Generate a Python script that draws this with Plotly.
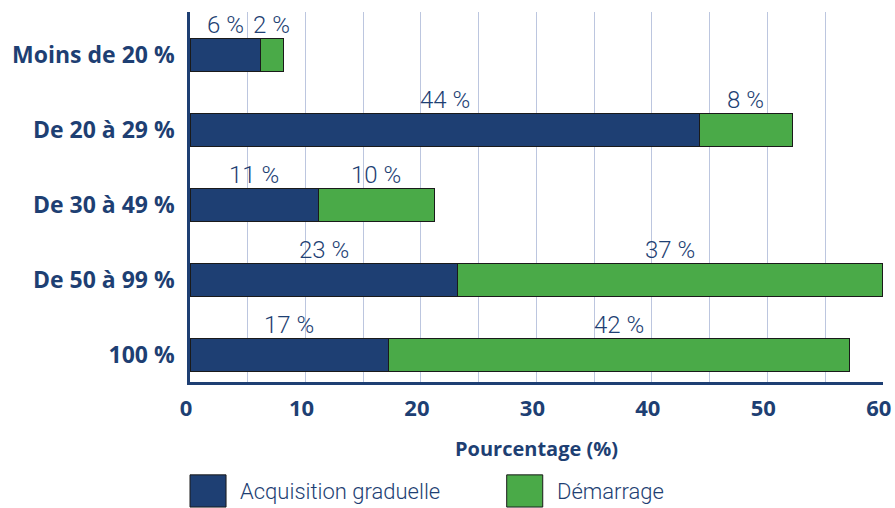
import plotly.graph_objects as go

categories = ["Moins de 20 %", "De 20 à 29 %", "De 30 à 49 %", "De 50 à 99 %", "100 %"]
acquisition = [6.1, 44.1, 11.1, 23.2, 17.2]
demarrage = [2.0, 8.1, 10.1, 36.8, 39.9]
acq_labels = ["6 %", "44 %", "11 %", "23 %", "17 %"]
dem_labels = ["2 %", "8 %", "10 %", "37 %", "42 %"]
series_names = ["Acquisition graduelle", "Démarrage"]
x_ticks = [0, 10, 20, 30, 40, 50, 60]

BLUE = "#1e3f73"
GREEN = "#4aaa48"
GRID = "#bcc6df"
BOLD_FONT = "Open Sans"
LIGHT_FONT = "Roboto, sans-serif"

fig = go.Figure()
fig.add_trace(go.Bar(y=categories, x=acquisition, orientation="h", name=series_names[0],
                     marker=dict(color=BLUE, line=dict(color="#1a1a1a", width=1))))
fig.add_trace(go.Bar(y=categories, x=demarrage, orientation="h", name=series_names[1],
                     marker=dict(color=GREEN, line=dict(color="#1a1a1a", width=1))))

for c, a, d, la, ld in zip(categories, acquisition, demarrage, acq_labels, dem_labels):
    for xc, txt in ((a / 2, la), (a + d / 2, ld)):
        fig.add_annotation(x=xc, y=c, text=txt, showarrow=False, yanchor="bottom",
                           yshift=14, font=dict(family=LIGHT_FONT, size=24, color=BLUE,
                                                weight=300))

# manual legend
leg_x = [0.0, 0.457]
for i, (nm, col) in enumerate(zip(series_names, [BLUE, GREEN])):
    fig.add_shape(type="rect", xref="paper", yref="paper",
                  x0=leg_x[i], x1=leg_x[i] + 0.052, y0=-0.338, y1=-0.251,
                  fillcolor=col, line=dict(color="#1a1a1a", width=1))
    fig.add_annotation(xref="paper", yref="paper", x=leg_x[i] + 0.069, y=-0.297,
                       text=nm, showarrow=False, xanchor="left", yanchor="middle",
                       font=dict(family=LIGHT_FONT, size=22, color=BLUE, weight=300))

fig.update_layout(
    barmode="stack",
    bargap=0.55,
    width=895, height=508,
    margin=dict(l=190, r=12, t=12, b=126),
    plot_bgcolor="white", paper_bgcolor="white",
    showlegend=False,
    xaxis=dict(range=[0, 60.02], tickvals=x_ticks, showgrid=True, gridcolor=GRID, gridwidth=1,
               minor=dict(dtick=5, showgrid=True, gridcolor=GRID, gridwidth=1),
               showline=True, linecolor=BLUE, linewidth=2.5, zeroline=False,
               tickfont=dict(family=BOLD_FONT, size=22, color=BLUE, weight="bold"),
               ticks="", ticklabelstandoff=5, ticklabelshift=-4, automargin=False,
               title=dict(text="Pourcentage (%)", standoff=21,
                          font=dict(family=BOLD_FONT, size=20, color=BLUE, weight="bold"))),
    yaxis=dict(categoryorder="array", categoryarray=categories[::-1],
               range=[-0.36, 4.573], showgrid=False, automargin=False,
               showline=True, linecolor=BLUE, linewidth=2.5,
               tickfont=dict(family=BOLD_FONT, size=23, color=BLUE, weight="bold"),
               ticks="", ticklabelstandoff=8),
)

fig.write_html("out.html", config={"displayModeBar": False},
               post_script="document.body.style.margin='0';document.body.style.overflow='hidden';")
